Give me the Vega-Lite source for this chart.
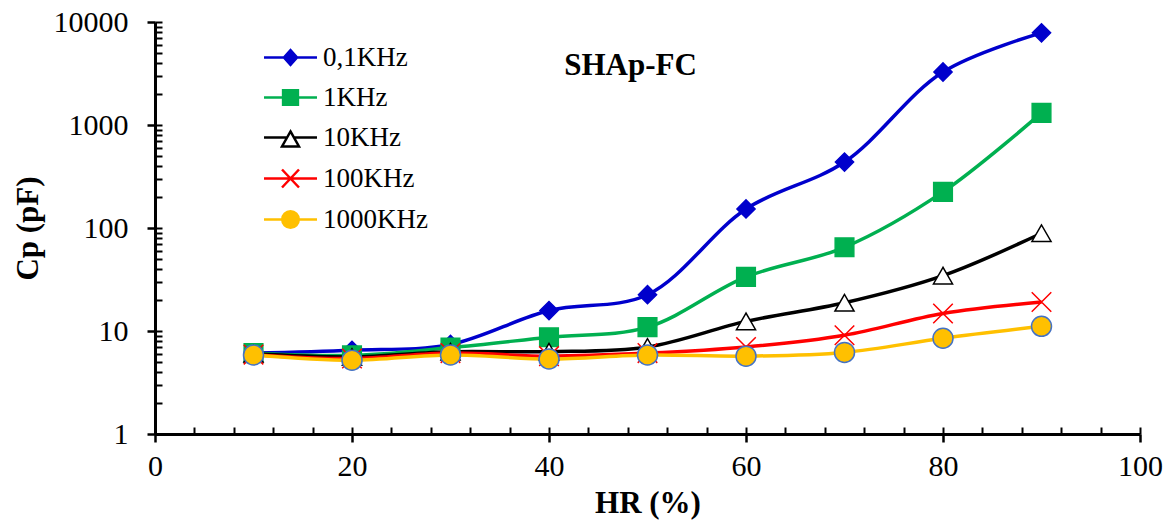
{
  "$schema": "https://vega.github.io/schema/vega-lite/v6.json",
  "autosize": {"type": "none"},
  "padding": {"left": 155, "top": 22, "right": 28, "bottom": 90},
  "width": 985,
  "height": 412,
  "background": "white",
  "config": {"view": {"stroke": null}, "font": "Liberation Serif"},
  "title": {
    "text": "SHAp-FC",
    "font": "Liberation Serif",
    "fontSize": 31,
    "fontWeight": "bold",
    "color": "black",
    "anchor": "middle",
    "frame": "group",
    "orient": "top",
    "offset": 0,
    "baseline": "alphabetic",
    "dx": -17,
    "dy": 99
  },
  "data": {
    "values": [
      {"f": "0,1KHz", "HR": 10, "Cp": 6.1},
      {"f": "0,1KHz", "HR": 20, "Cp": 6.5},
      {"f": "0,1KHz", "HR": 30, "Cp": 7.4},
      {"f": "0,1KHz", "HR": 40, "Cp": 15.8},
      {"f": "0,1KHz", "HR": 50, "Cp": 22.5},
      {"f": "0,1KHz", "HR": 60, "Cp": 153},
      {"f": "0,1KHz", "HR": 70, "Cp": 437},
      {"f": "0,1KHz", "HR": 80, "Cp": 3270},
      {"f": "0,1KHz", "HR": 90, "Cp": 7850},
      {"f": "1KHz", "HR": 10, "Cp": 6.1},
      {"f": "1KHz", "HR": 20, "Cp": 5.8},
      {"f": "1KHz", "HR": 30, "Cp": 6.9},
      {"f": "1KHz", "HR": 40, "Cp": 8.7},
      {"f": "1KHz", "HR": 50, "Cp": 10.9},
      {"f": "1KHz", "HR": 60, "Cp": 33.5},
      {"f": "1KHz", "HR": 70, "Cp": 65},
      {"f": "1KHz", "HR": 80, "Cp": 224},
      {"f": "1KHz", "HR": 90, "Cp": 1310},
      {"f": "10KHz", "HR": 10, "Cp": 6.0},
      {"f": "10KHz", "HR": 20, "Cp": 5.6},
      {"f": "10KHz", "HR": 30, "Cp": 6.3},
      {"f": "10KHz", "HR": 40, "Cp": 6.3},
      {"f": "10KHz", "HR": 50, "Cp": 7.0},
      {"f": "10KHz", "HR": 60, "Cp": 12.4},
      {"f": "10KHz", "HR": 70, "Cp": 18.8},
      {"f": "10KHz", "HR": 80, "Cp": 34.5},
      {"f": "10KHz", "HR": 90, "Cp": 89},
      {"f": "100KHz", "HR": 10, "Cp": 5.9},
      {"f": "100KHz", "HR": 20, "Cp": 5.4},
      {"f": "100KHz", "HR": 30, "Cp": 6.1},
      {"f": "100KHz", "HR": 40, "Cp": 5.7},
      {"f": "100KHz", "HR": 50, "Cp": 6.1},
      {"f": "100KHz", "HR": 60, "Cp": 7.0},
      {"f": "100KHz", "HR": 70, "Cp": 9.1},
      {"f": "100KHz", "HR": 80, "Cp": 14.8},
      {"f": "100KHz", "HR": 90, "Cp": 19.1},
      {"f": "1000KHz", "HR": 10, "Cp": 5.85},
      {"f": "1000KHz", "HR": 20, "Cp": 5.2},
      {"f": "1000KHz", "HR": 30, "Cp": 5.85},
      {"f": "1000KHz", "HR": 40, "Cp": 5.35},
      {"f": "1000KHz", "HR": 50, "Cp": 5.85},
      {"f": "1000KHz", "HR": 60, "Cp": 5.7},
      {"f": "1000KHz", "HR": 70, "Cp": 6.2},
      {"f": "1000KHz", "HR": 80, "Cp": 8.5},
      {"f": "1000KHz", "HR": 90, "Cp": 11.1}
    ]
  },
  "layer": [
    {
      "mark": {"type": "line", "interpolate": "catmull-rom", "strokeWidth": 3.5},
      "encoding": {
        "x": {
          "field": "HR", "type": "quantitative",
          "scale": {"domain": [0, 100], "nice": false, "zero": false},
          "axis": {
            "orient": "bottom",
            "values": [0, 20, 40, 60, 80, 100],
            "grid": false,
            "tickSize": 8, "tickWidth": 2.5, "tickColor": "black",
            "domainWidth": 3, "domainColor": "black",
            "labelFont": "Liberation Serif", "labelFontSize": 30, "labelColor": "black", "labelPadding": 9,
            "labelOverlap": false, "labelFlush": false,
            "title": "HR (%)", "titleFont": "Liberation Serif", "titleFontSize": 31, "titleFontWeight": "bold",
            "titleColor": "black", "titlePadding": 7
          }
        },
        "y": {
          "field": "Cp", "type": "quantitative",
          "scale": {"type": "log", "domain": [1, 10000], "nice": false},
          "axis": {
            "orient": "left",
            "values": [1, 10, 100, 1000, 10000],
            "format": "d",
            "grid": false,
            "tickSize": 8, "tickWidth": 2.5, "tickColor": "black",
            "domainWidth": 3, "domainColor": "black",
            "labelFont": "Liberation Serif", "labelFontSize": 30, "labelColor": "black", "labelPadding": 19,
            "labelOverlap": false, "labelFlush": false,
            "title": "Cp (pF)", "titleFont": "Liberation Serif", "titleFontSize": 31, "titleFontWeight": "bold",
            "titleColor": "black", "titlePadding": 9
          }
        },
        "color": {
          "field": "f", "type": "nominal",
          "scale": {
            "domain": ["0,1KHz", "1KHz", "10KHz", "100KHz", "1000KHz"],
            "range": ["#0000CC", "#00B050", "#000000", "#FF0000", "#FFC000"]
          },
          "legend": {
            "title": null,
            "orient": "none",
            "legendX": 122,
            "legendY": 22,
            "symbolSize": 449,
            "symbolStrokeWidth": 2.5,
            "labelFont": "Liberation Serif",
            "labelFontSize": 27,
            "labelColor": "black",
            "labelOffset": 19,
            "rowPadding": 12,
            "encode": {
              "symbols": {
                "update": {
                  "shape": {"signal": "['M-2.5,0H2.5M0,-0.7L0.62,0L0,0.7L-0.62,0Z','M-2.5,0H2.5M-0.7,-0.68H0.7V0.68H-0.7Z','M-2.5,0H-0.32M0.32,0H2.5M0,-0.57L0.8,0.85L-0.8,0.85Z','M-2.5,0H2.5M-0.8,-0.85L0.8,0.85M-0.8,0.85L0.8,-0.85','M-2.5,0H2.5M0.78,0A0.78,0.78,0,1,1,-0.78,0A0.78,0.78,0,1,1,0.78,0Z'][indexof(['0,1KHz','1KHz','10KHz','100KHz','1000KHz'], datum.value)]"},
                  "fill": {"signal": "['#0000CC','#00B050','#FFFFFF','transparent','#FFC000'][indexof(['0,1KHz','1KHz','10KHz','100KHz','1000KHz'], datum.value)]"},
                  "stroke": {"signal": "['#0000CC','#00B050','#000000','#FF0000','#FFC000'][indexof(['0,1KHz','1KHz','10KHz','100KHz','1000KHz'], datum.value)]"},
                  "strokeWidth": {"value": 2.5}
                }
              }
            }
          }
        }
      }
    },
    {
      "mark": {"type": "point", "filled": true, "opacity": 1, "strokeWidth": 1.5},
      "encoding": {
        "x": {
          "field": "HR", "type": "quantitative",
          "axis": {
            "orient": "bottom",
            "values": [0, 4, 8, 12, 16, 20, 24, 28, 32, 36, 40, 44, 48, 52, 56, 60, 64, 68, 72, 76, 80, 84, 88, 92, 96, 100],
            "grid": false, "domain": false, "labels": false, "title": null,
            "tickSize": -7, "tickWidth": 2, "tickColor": "black"
          }
        },
        "y": {
          "field": "Cp", "type": "quantitative",
          "axis": {
            "orient": "left",
            "values": [1, 2, 3, 4, 5, 6, 7, 8, 9, 10, 20, 30, 40, 50, 60, 70, 80, 90, 100, 200, 300, 400, 500, 600, 700, 800, 900, 1000, 2000, 3000, 4000, 5000, 6000, 7000, 8000, 9000, 10000],
            "grid": false, "domain": false, "labels": false, "title": null,
            "tickSize": -7, "tickWidth": 2, "tickColor": "black"
          }
        },
        "shape": {
          "field": "f", "type": "nominal", "legend": null,
          "scale": {
            "domain": ["1000KHz", "100KHz", "10KHz", "1KHz", "0,1KHz"],
            "range": ["circle", "M-1,-1L1,1M-1,1L1,-1", "triangle-up", "square", "diamond"]
          }
        },
        "fill": {
          "field": "f", "type": "nominal", "legend": null,
          "scale": {
            "domain": ["1000KHz", "100KHz", "10KHz", "1KHz", "0,1KHz"],
            "range": ["#FFC000", "transparent", "#FFFFFF", "#00B050", "#0000CC"]
          }
        },
        "stroke": {
          "field": "f", "type": "nominal", "legend": null,
          "scale": {
            "domain": ["1000KHz", "100KHz", "10KHz", "1KHz", "0,1KHz"],
            "range": ["#4472C4", "#FF0000", "#000000", "#00B050", "#0000CC"]
          }
        },
        "size": {
          "field": "f", "type": "nominal", "legend": null,
          "scale": {
            "domain": ["1000KHz", "100KHz", "10KHz", "1KHz", "0,1KHz"],
            "range": [400, 330, 380, 225, 250]
          }
        }
      }
    }
  ],
  "resolve": {"axis": {"x": "independent", "y": "independent"}}
}
